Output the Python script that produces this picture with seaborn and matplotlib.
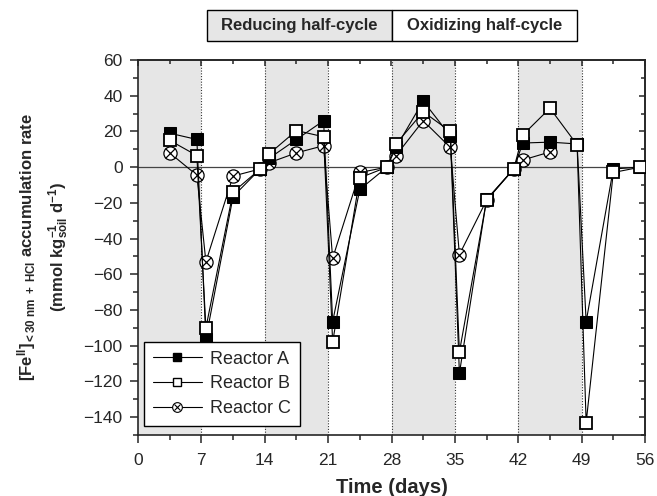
import matplotlib
matplotlib.use("Agg")
import matplotlib.pyplot as plt
import seaborn as sns
import numpy as np
from matplotlib.lines import Line2D
from matplotlib.patches import Rectangle

sns.set_style("ticks")
plt.rcParams['font.family'] = ['Liberation Sans', 'DejaVu Sans']
plt.rcParams['mathtext.fontset'] = 'custom'
plt.rcParams['mathtext.rm'] = 'Liberation Sans'
plt.rcParams['mathtext.bf'] = 'Liberation Sans:bold'
plt.rcParams['mathtext.it'] = 'Liberation Sans:italic'

# ---- data ----
days_AB = [3.5, 6.5, 7.5, 10.5, 13.5, 14.5, 17.5, 20.5, 21.5, 24.5, 27.5, 28.5,
           31.5, 34.5, 35.5, 38.5, 41.5, 42.5, 45.5, 48.5, 49.5, 52.5, 55.5]
reactor_A = [19, 15.5, -96, -16.5, -1, 5, 15.5, 26, -86.5, -12.5, 0, 11,
             37, 17.5, -115.5, -18, -1, 13.5, 14, 13, -86.5, -1, 0]
reactor_B = [15, 6.5, -90, -14, -1, 7.5, 20.5, 17, -98, -6, 0, 13,
             31, 20, -103.5, -18.5, -1, 18, 33, 12.5, -143, -3, 0]
days_C = [3.5, 6.5, 7.5, 10.5, 13.5, 14.5, 17.5, 20.5, 21.5, 24.5, 27.5, 28.5,
          31.5, 34.5, 35.5, 38.5, 41.5, 42.5, 45.5]
reactor_C = [8, -4.5, -53, -5, -1, 2.5, 8, 12, -51, -3, 0, 6.5,
             26, 11, -49, -18.5, -1, 4, 8.5]
reducing_periods = [(0, 7), (14, 21), (28, 35), (42, 49)]
xticks = [0, 7, 14, 21, 28, 35, 42, 49, 56]
yticks = [-140, -120, -100, -80, -60, -40, -20, 0, 20, 40, 60]
series_labels = ["Reactor A", "Reactor B", "Reactor C"]
header_labels = ["Reducing half-cycle", "Oxidizing half-cycle"]

fig = plt.figure(figsize=(6.57, 4.96), dpi=100)
ax = fig.add_axes([138/657, 1-435/496, 507/657, 375/496])

for a, b in reducing_periods:
    ax.axvspan(a, b, color='#e6e6e6', lw=0, zorder=0)
for x in xticks[1:-1]:
    ax.axvline(x, ls=(0, (1, 1.5)), color='#333333', lw=0.8, zorder=1)
ax.axhline(0, color='#444444', lw=0.9, zorder=1)

ms_sq = 8
# Reactor C: circle with cross
sns.lineplot(x=days_C, y=reactor_C, ax=ax, color='black', lw=0.8, marker='o',
             markersize=9.5, markerfacecolor='white', markeredgecolor='black',
             markeredgewidth=0.9, sort=False, zorder=3)
sns.lineplot(x=days_C, y=reactor_C, ax=ax, color='black', linestyle='none', marker='x',
             markersize=6.5, markeredgecolor='black', markeredgewidth=0.9,
             sort=False, zorder=4)
# Reactor A
sns.lineplot(x=days_AB, y=reactor_A, ax=ax, color='black', lw=0.8, marker='s',
             markersize=ms_sq, markerfacecolor='black', markeredgecolor='black',
             sort=False, zorder=5)
# Reactor B
sns.lineplot(x=days_AB, y=reactor_B, ax=ax, color='black', lw=0.8, marker='s',
             markersize=ms_sq, markerfacecolor='white', markeredgecolor='black',
             markeredgewidth=1.3, sort=False, zorder=6)

ax.set_xlim(0, 56)
ax.set_ylim(-150, 60)
ax.set_xticks(xticks)
ax.set_xticks(np.arange(3.5, 56, 7), minor=True)
ax.set_yticks(yticks)
ax.set_yticks(np.arange(-150, 61, 10), minor=True)
ax.tick_params(axis='both', which='major', direction='out', length=6, width=1.1,
               labelsize=12.5, pad=5)
ax.tick_params(axis='x', which='major', pad=7)
ax.tick_params(axis='both', which='minor', direction='out', length=3.5, width=1.1)
for s in ax.spines.values():
    s.set_linewidth(1.2)
    s.set_visible(True)

secx = ax.secondary_xaxis('top')
secx.set_xticks(xticks)
secx.set_xticks(np.arange(3.5, 56, 7), minor=True)
secx.tick_params(which='major', direction='in', length=4.5, width=1.1, labeltop=False)
secx.tick_params(which='minor', direction='in', length=3, width=1.1)
secx.spines['top'].set_linewidth(1.2)
secy = ax.secondary_yaxis('right')
secy.set_yticks(yticks)
secy.set_yticks(np.arange(-150, 61, 10), minor=True)
secy.tick_params(which='major', direction='in', length=4.5, width=1.1, labelright=False)
secy.tick_params(which='minor', direction='in', length=3, width=1.1)
secy.spines['right'].set_linewidth(1.2)

ax.set_xlabel("Time (days)", fontsize=14.5, fontweight='bold', labelpad=7)
ax.set_ylabel(r"$\mathbf{[Fe^{II}]_{<30\ nm\ +\ HCl}}$ accumulation rate" "\n"
              r"(mmol kg$_{\mathbf{soil}}^{\mathbf{-1}}$ d$^{\mathbf{-1}}$)",
              fontsize=12, fontweight='bold', linespacing=1.5)
ax.yaxis.set_label_coords(-0.132, 0.5)

handles = [
    Line2D([], [], color='black', lw=0.8, marker='s', markersize=6,
           markerfacecolor='black', markeredgecolor='black'),
    Line2D([], [], color='black', lw=0.8, marker='s', markersize=6,
           markerfacecolor='white', markeredgecolor='black'),
    (Line2D([], [], color='black', lw=0.8, marker='o', markersize=7,
            markerfacecolor='white', markeredgecolor='black', markeredgewidth=0.8),
     Line2D([], [], color='black', lw=0, marker='x', markersize=5,
            markeredgewidth=0.8)),
]
leg = ax.legend(handles, series_labels, loc='lower left', bbox_to_anchor=(0.012, 0.024),
                borderaxespad=0, fontsize=13, frameon=True, fancybox=False,
                handlelength=2.7, handletextpad=0.45, labelspacing=0.42,
                borderpad=0.5)
leg.get_frame().set_edgecolor('black')
leg.get_frame().set_linewidth(1.0)
leg.get_frame().set_facecolor('white')
leg.get_frame().set_alpha(1)
leg.set_zorder(10)

# header boxes
x0, xm, x1 = 207/657, 392/657, 577/657
y0, y1 = 1-41/496, 1-10/496
fig.add_artist(Rectangle((x0, y0), xm-x0, y1-y0, transform=fig.transFigure,
                         facecolor='#e6e6e6', edgecolor='black', lw=1.0))
fig.add_artist(Rectangle((xm, y0), x1-xm, y1-y0, transform=fig.transFigure,
                         facecolor='white', edgecolor='black', lw=1.0))
fig.text((x0+xm)/2, (y0+y1)/2, header_labels[0], ha='center', va='center',
         fontsize=12, fontweight='bold')
fig.text((xm+x1)/2, (y0+y1)/2, header_labels[1], ha='center', va='center',
         fontsize=12, fontweight='bold')

fig.savefig("out.png", dpi=100)
